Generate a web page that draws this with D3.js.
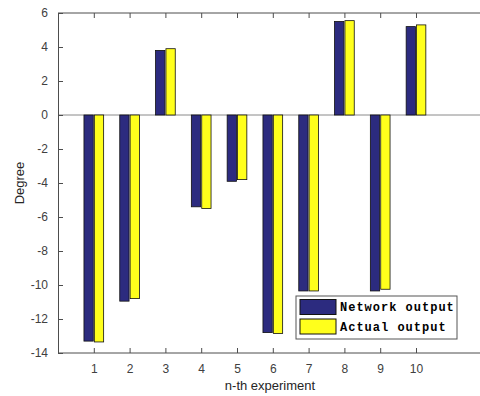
<!DOCTYPE html>
<html>
<head>
<meta charset="utf-8">
<script src="https://cdn.jsdelivr.net/npm/d3@7"></script>
<style>
  body { margin: 0; background: #fff; }
  svg { display: block; font-family: "Liberation Sans", Arial, sans-serif; }
</style>
</head>
<body>
<svg></svg>
<script>
const experiments = [1, 2, 3, 4, 5, 6, 7, 8, 9, 10];
const networkOutput = [-13.3, -10.95, 3.8, -5.4, -3.9, -12.8, -10.35, 5.5, -10.35, 5.2];
const actualOutput = [-13.35, -10.8, 3.9, -5.5, -3.8, -12.85, -10.35, 5.55, -10.25, 5.3];
const seriesNames = ["Network output", "Actual output"];
const yTicks = [6, 4, 2, 0, -2, -4, -6, -8, -10, -12, -14];

const width = 480, height = 396;
const svg = d3.select("svg").attr("width", width).attr("height", height);

const margin = { left: 58, top: 13, bottom: 353 };
const x = d3.scaleLinear().domain([0, 12]).range([margin.left, margin.left + 12 * 35.8]);
const y = d3.scaleLinear().domain([-14, 6]).range([margin.bottom, margin.top]);

const colors = ["#2c2b7f", "#ffff1c"];
const barW = 0.26, offs = [-0.145, 0.145];

// zero baseline
svg.append("line")
  .attr("x1", margin.left).attr("x2", width)
  .attr("y1", y(0)).attr("y2", y(0))
  .attr("stroke", "#8a8a8a").attr("stroke-width", 1);

const series = [networkOutput, actualOutput];
series.forEach((vals, s) => {
  svg.append("g").selectAll("rect")
    .data(vals)
    .enter()
    .append("rect")
    .attr("x", (d, i) => x(experiments[i] + offs[s] - barW / 2))
    .attr("width", x(barW) - x(0))
    .attr("y", d => y(Math.max(0, d)))
    .attr("height", d => Math.abs(y(d) - y(0)))
    .attr("fill", colors[s])
    .attr("stroke", "#111")
    .attr("stroke-width", 0.8);
});

// axes
const axisColor = "#4d4d4d";
const xAxis = svg.append("g")
  .attr("transform", `translate(0,${margin.bottom})`)
  .call(d3.axisBottom(x).tickValues(experiments).tickSizeInner(-5).tickSizeOuter(0).tickPadding(11));
const xTop = svg.append("g")
  .attr("transform", `translate(0,${margin.top})`)
  .call(d3.axisTop(x).tickValues(experiments).tickSizeInner(-5).tickSizeOuter(0).tickFormat(""));
const yAxis = svg.append("g")
  .attr("transform", `translate(${margin.left},0)`)
  .call(d3.axisLeft(y).tickValues(yTicks).tickSizeInner(-5).tickSizeOuter(0).tickPadding(10)
    .tickFormat(d => String(d)));

[xAxis, xTop, yAxis].forEach(g => {
  g.select(".domain").attr("stroke", axisColor);
  g.selectAll(".tick line").attr("stroke", axisColor);
  g.selectAll(".tick text").attr("fill", "#404040").attr("font-size", 12);
});
xAxis.select(".domain").attr("d", `M${margin.left},0H${width}`);
xTop.select(".domain").attr("d", `M${margin.left},0H${width}`);

// axis labels
svg.append("text")
  .attr("x", 270).attr("y", 390)
  .attr("text-anchor", "middle")
  .attr("font-size", 13).attr("fill", "#262626")
  .text("n-th experiment");
svg.append("text")
  .attr("transform", "translate(24,183) rotate(-90)")
  .attr("text-anchor", "middle")
  .attr("font-size", 13).attr("fill", "#262626")
  .text("Degree");

// legend
const legend = svg.append("g").attr("transform", "translate(296,296)");
legend.append("rect")
  .attr("width", 161).attr("height", 43)
  .attr("fill", "#fff").attr("stroke", "#555").attr("stroke-width", 1);
seriesNames.forEach((name, i) => {
  legend.append("rect")
    .attr("x", 4).attr("y", 3.5 + i * 19.5)
    .attr("width", 36).attr("height", 15)
    .attr("fill", colors[i]).attr("stroke", "#111").attr("stroke-width", 1);
  legend.append("text")
    .attr("x", 44).attr("y", 15 + i * 19.5)
    .attr("font-family", "'Liberation Mono', 'DejaVu Sans Mono', monospace")
    .attr("font-weight", "bold")
    .attr("font-size", 12)
    .attr("letter-spacing", 1)
    .attr("fill", "#000")
    .text(name);
});
</script>
</body>
</html>
